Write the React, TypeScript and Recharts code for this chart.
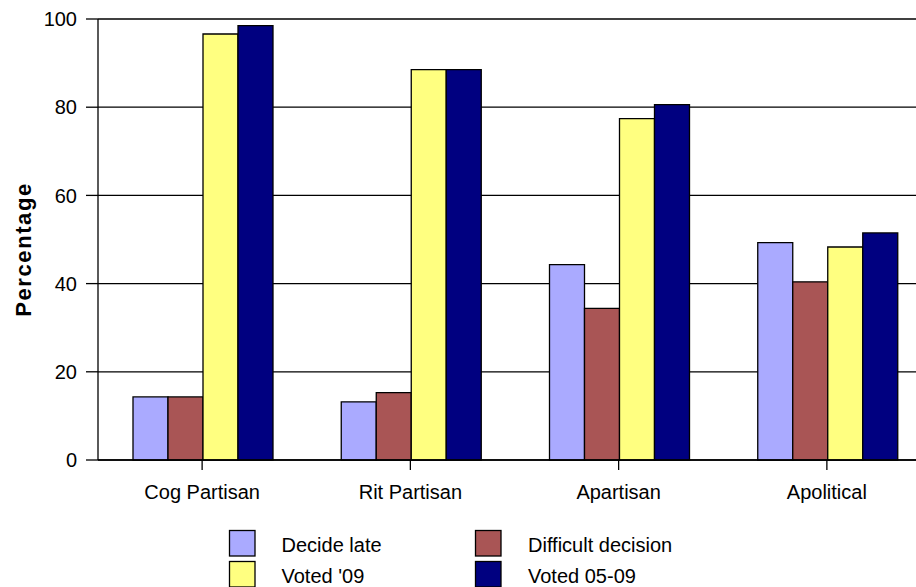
import React from 'react';
import { BarChart, Bar, XAxis, YAxis, CartesianGrid } from 'recharts';

const categories = ['Cog Partisan', 'Rit Partisan', 'Apartisan', 'Apolitical'];
const decideLate = [14.3, 13.2, 44.3, 49.3];
const difficultDecision = [14.3, 15.3, 34.4, 40.4];
const voted09 = [96.6, 88.5, 77.4, 48.3];
const voted0509 = [98.5, 88.5, 80.6, 51.5];
const yTicks = [0, 20, 40, 60, 80, 100];

const seriesNames = ['Decide late', 'Difficult decision', "Voted '09", 'Voted 05-09'];
const seriesKeys = ['decideLate', 'difficult', 'voted09', 'voted0509'];
const seriesColors = ['#AAAAFF', '#A95555', '#FFFF80', '#000080'];

const data = categories.map((name, i) => ({
  name,
  decideLate: decideLate[i],
  difficult: difficultDecision[i],
  voted09: voted09[i],
  voted0509: voted0509[i],
}));

const FONT = '"Liberation Sans", Arial, sans-serif';

// legend cells in a 2x2 grid: [swatch x, text x, swatch y, text baseline]
const legendCols = [
  { swatchX: 229.5, textX: 281.5 },
  { swatchX: 475.5, textX: 528 },
];
const legendRows = [
  { swatchY: 530.5, baseline: 551.5 },
  { swatchY: 561.5, baseline: 582.5 },
];

const PercentLabel = (props: any) => {
  const vb = props.viewBox || { x: 0, y: 0, height: 0 };
  const cx = vb.x + 23;
  const cy = vb.y + vb.height / 2 + 10;
  return (
    <text
      x={cx}
      y={cy}
      transform={`rotate(-90, ${cx}, ${cy})`}
      textAnchor="middle"
      dominantBaseline="central"
      fontFamily={FONT}
      fontWeight="bold"
      fontSize={22}
      letterSpacing={1.6}
      fill="#000"
    >
      Percentage
    </text>
  );
};

export default function App() {
  return (
    <div
      style={{
        position: 'absolute',
        left: 0,
        top: 0,
        width: 916,
        height: 587,
        overflow: 'hidden',
        background: '#fff',
      }}
    >
      <BarChart
        width={940}
        height={600}
        data={data}
        margin={{ top: 19, right: 9, left: 0, bottom: 80 }}
        barCategoryGap={35}
        barGap={0}
      >
        <CartesianGrid vertical={false} stroke="#000" strokeWidth={1.3} />
        <XAxis
          dataKey="name"
          height={60}
          axisLine={{ stroke: '#000', strokeWidth: 1.3 }}
          tickLine={{ stroke: '#000', strokeWidth: 1.3 }}
          tickSize={10}
          tickMargin={15}
          tick={{ fill: '#000', fontSize: 20, fontFamily: FONT }}
        />
        <YAxis
          width={98}
          domain={[0, 100]}
          ticks={yTicks}
          interval={0}
          axisLine={{ stroke: '#000', strokeWidth: 1.3 }}
          tickLine={{ stroke: '#000', strokeWidth: 1.3 }}
          tickSize={12}
          tickMargin={9}
          tick={{ fill: '#000', fontSize: 20, fontFamily: FONT }}
          label={{ content: PercentLabel }}
        />
        {seriesKeys.map((k, i) => (
          <Bar
            key={k}
            dataKey={k}
            name={seriesNames[i]}
            fill={seriesColors[i]}
            stroke="#000"
            strokeWidth={1.3}
            isAnimationActive={false}
          />
        ))}
      </BarChart>
      <svg
        width={916}
        height={587}
        style={{ position: 'absolute', left: 0, top: 0, pointerEvents: 'none' }}
      >
        {seriesNames.map((name, i) => {
          const col = legendCols[i % 2];
          const row = legendRows[Math.floor(i / 2)];
          return (
            <g key={name}>
              <rect
                x={col.swatchX}
                y={row.swatchY}
                width={25.5}
                height={25.5}
                fill={seriesColors[i]}
                stroke="#000"
                strokeWidth={1.3}
              />
              <text
                x={col.textX}
                y={row.baseline}
                fontFamily={FONT}
                fontSize={20}
                fill="#000"
              >
                {name}
              </text>
            </g>
          );
        })}
      </svg>
    </div>
  );
}
